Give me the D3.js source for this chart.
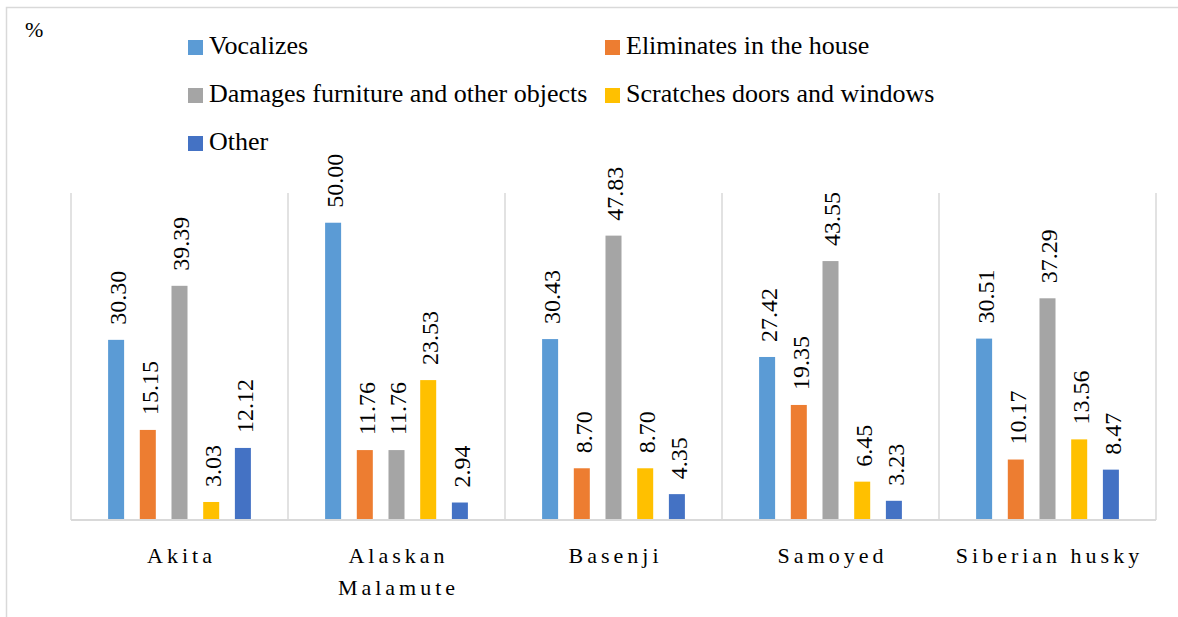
<!DOCTYPE html>
<html><head><meta charset="utf-8"><script src="https://cdn.jsdelivr.net/npm/d3@7"></script></head>
<body style="margin:0">
<script>
// breeds on the x axis
const breeds = ["Akita", "Alaskan Malamute", "Basenji", "Samoyed", "Siberian husky"];
const breedLines = [["Akita"], ["Alaskan", "Malamute"], ["Basenji"], ["Samoyed"], ["Siberian husky"]];

// behaviour series
const series = [
  "Vocalizes",
  "Eliminates in the house",
  "Damages furniture and other objects",
  "Scratches doors and windows",
  "Other"
];
const colors = ["#5B9BD5", "#ED7D31", "#A5A5A5", "#FFC000", "#4472C4"];

// percentages per series, in breed order
const vocalizes = [30.30, 50.00, 30.43, 27.42, 30.51];
const eliminates = [15.15, 11.76, 8.70, 19.35, 10.17];
const damages = [39.39, 11.76, 47.83, 43.55, 37.29];
const scratches = [3.03, 23.53, 8.70, 6.45, 13.56];
const other = [12.12, 2.94, 4.35, 3.23, 8.47];
const values = [vocalizes, eliminates, damages, scratches, other];

const FONT = '"Liberation Serif"';
const width = 1178, height = 617;
const plot = { left: 71, right: 1156, top: 193, bottom: 520 };

const svg = d3.select("body").append("svg")
  .attr("width", width)
  .attr("height", height)
  .style("display", "block")
  .style("font-family", FONT);

// chart border (left and top visible)
svg.append("rect")
  .attr("x", 6.5).attr("y", 7.5)
  .attr("width", 1190).attr("height", 640)
  .attr("fill", "none")
  .attr("stroke", "#d9d9d9")
  .attr("stroke-width", 1.5);

const x0 = d3.scaleBand().domain(breeds).range([plot.left, plot.right]).padding(0);
const bw = x0.bandwidth();
const x1 = d3.scaleBand().domain(series)
  .range([bw * 0.171, bw * 0.829])
  .paddingInner(0.495).paddingOuter(0);
const y = d3.scaleLinear().domain([0, 55]).range([plot.bottom, plot.top]);

// category separators
const seps = breeds.map(b => x0(b)).concat([plot.right]);
svg.append("g").selectAll("line")
  .data(seps).join("line")
  .attr("x1", d => d).attr("x2", d => d)
  .attr("y1", plot.top).attr("y2", plot.bottom)
  .attr("stroke", "#d9d9d9")
  .attr("stroke-width", 1.5);

// bars
const groups = svg.append("g").selectAll("g")
  .data(breeds).join("g")
  .attr("transform", d => `translate(${x0(d)},0)`);

const barData = (b, bi) => series.map((s, si) => ({ s, si, v: values[si][bi] }));

groups.selectAll("rect")
  .data((b, bi) => barData(b, bi)).join("rect")
  .attr("x", d => x1(d.s))
  .attr("y", d => y(d.v))
  .attr("width", x1.bandwidth())
  .attr("height", d => y(0) - y(d.v))
  .attr("fill", d => colors[d.si]);

// value labels, rotated
groups.selectAll("text")
  .data((b, bi) => barData(b, bi)).join("text")
  .attr("transform", d => `translate(${x1(d.s) + x1.bandwidth() / 2 + 1.5},${y(d.v) - 15}) rotate(-90)`)
  .attr("dy", "0.35em")
  .style("font-family", FONT)
  .attr("font-size", 24)
  .text(d => d.v.toFixed(2));

// baseline
svg.append("line")
  .attr("x1", plot.left).attr("x2", plot.right)
  .attr("y1", plot.bottom).attr("y2", plot.bottom)
  .attr("stroke", "#d9d9d9")
  .attr("stroke-width", 2);

// category labels
const cat = svg.append("g").selectAll("text")
  .data(breeds).join("text")
  .attr("y", 563)
  .attr("text-anchor", "middle")
  .style("font-family", FONT)
  .attr("font-size", 22)
  .attr("letter-spacing", 4);
cat.selectAll("tspan")
  .data((d, i) => breedLines[i].map(t => ({ t, x: x0(d) + bw / 2 + 2 })))
  .join("tspan")
  .attr("x", d => d.x)
  .attr("dy", (d, i) => i === 0 ? 0 : 32)
  .text(d => d.t);

// y unit
svg.append("text")
  .attr("x", 25).attr("y", 37)
  .style("font-family", FONT)
  .attr("font-size", 22)
  .text("%");

// legend
const legendPos = [
  { x: 188, y: 40 }, { x: 605, y: 40 },
  { x: 188, y: 88 }, { x: 605, y: 88 },
  { x: 188, y: 136 }
];
const legend = svg.append("g").selectAll("g")
  .data(series).join("g")
  .attr("transform", (d, i) => `translate(${legendPos[i].x},${legendPos[i].y})`);
legend.append("rect")
  .attr("width", 15).attr("height", 15)
  .attr("fill", (d, i) => colors[i]);
legend.append("text")
  .attr("x", 21).attr("y", 14)
  .style("font-family", FONT)
  .attr("font-size", 26)
  .text(d => d);
</script></body></html>
